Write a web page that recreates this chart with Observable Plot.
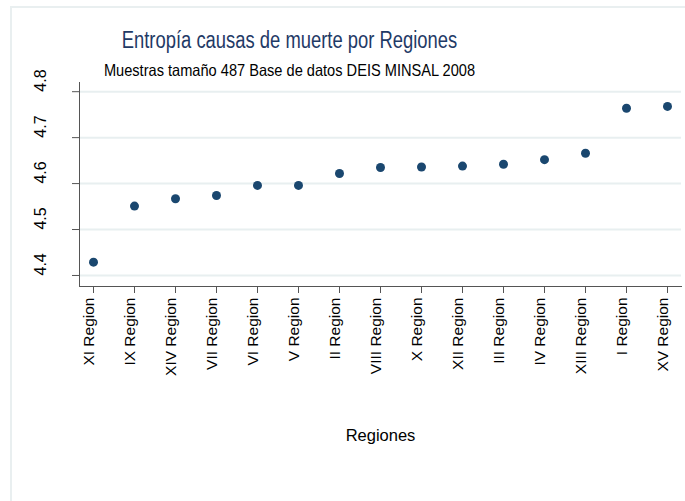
<!DOCTYPE html>
<html>
<head>
<meta charset="utf-8">
<script src="https://cdn.jsdelivr.net/npm/d3@7"></script>
<script src="https://cdn.jsdelivr.net/npm/@observablehq/plot@0.6"></script>
<style>
  html, body { margin: 0; padding: 0; background: #fff; }
  body { width: 685px; height: 501px; overflow: hidden; position: relative; font-family: "Liberation Sans", Arial, sans-serif; }
  #frame { position: absolute; left: 10px; top: 6px; width: 700px; height: 520px; border-left: 2px solid #e9eff0; border-top: 2px solid #e9eff0; pointer-events: none; }
  #header { position: relative; height: 72px; }
  .ttl { position: absolute; left: 0; width: 579px; text-align: center; white-space: nowrap; line-height: 1; }
  #title { top: 29px; font-size: 23px; color: #1f3a66; transform: scaleX(0.80); transform-origin: 289.5px 0; }
  #subtitle { top: 62px; font-size: 16.5px; color: #000; transform: scaleX(0.885); transform-origin: 289.5px 0; }
  #chart { position: relative; }
</style>
</head>
<body>
<div id="frame"></div>
<div id="header">
  <div class="ttl" id="title">Entropía causas de muerte por Regiones</div>
  <div class="ttl" id="subtitle">Muestras tamaño 487 Base de datos DEIS MINSAL 2008</div>
</div>
<div id="chart"></div>
<script>
const regions = ["XI Region","IX Region","XIV Region","VII Region","VI Region","V Region","II Region","VIII Region","X Region","XII Region","III Region","IV Region","XIII Region","I Region","XV Region"];
const entropy = [4.429,4.551,4.567,4.574,4.596,4.596,4.622,4.635,4.636,4.638,4.642,4.652,4.666,4.764,4.768];
const yTicks = [4.4,4.5,4.6,4.7,4.8];
const xLabel = "Regiones";

const data = regions.map((r, i) => ({region: r, value: entropy[i]}));
const font = "'Liberation Sans', Arial, sans-serif";

const chart = Plot.plot({
  width: 685,
  height: 429,
  marginTop: 10,
  marginBottom: 215,
  marginLeft: 79,
  marginRight: 4,
  style: {fontFamily: font, background: "transparent", overflow: "visible"},
  x: {type: "point", domain: regions, padding: 0.265, axis: null},
  y: {domain: [4.376, 4.82], axis: null},
  marks: [
    Plot.gridY(yTicks, {stroke: "#e8eff0", strokeOpacity: 1, strokeWidth: 2}),
    Plot.frame({anchor: "left", stroke: "#555"}),
    Plot.frame({anchor: "bottom", stroke: "#555"}),
    Plot.axisY({ticks: yTicks, tickSize: 7, tickFormat: () => "", label: null, stroke: "#555"}),
    Plot.axisX({ticks: regions, tickSize: 7, tickFormat: () => "", label: null, stroke: "#555"}),
    Plot.text(yTicks, {y: d => d, text: d => d.toFixed(1), frameAnchor: "left", dx: -39, rotate: -90, fontSize: 16, fill: "#000"}),
    Plot.text(regions, {x: d => d, text: d => d, frameAnchor: "bottom", dy: 11, rotate: -90, textAnchor: "end", fontSize: 15.5, fill: "#000"}),
    Plot.text([xLabel], {text: d => d, frameAnchor: "bottom", dy: 154, fontSize: 16.5, fill: "#000"}),
    Plot.dot(data, {x: "region", y: "value", r: 4.5, fill: "#1a476f", stroke: "none"})
  ]
});
document.getElementById("chart").appendChild(chart);
</script>
</body>
</html>
